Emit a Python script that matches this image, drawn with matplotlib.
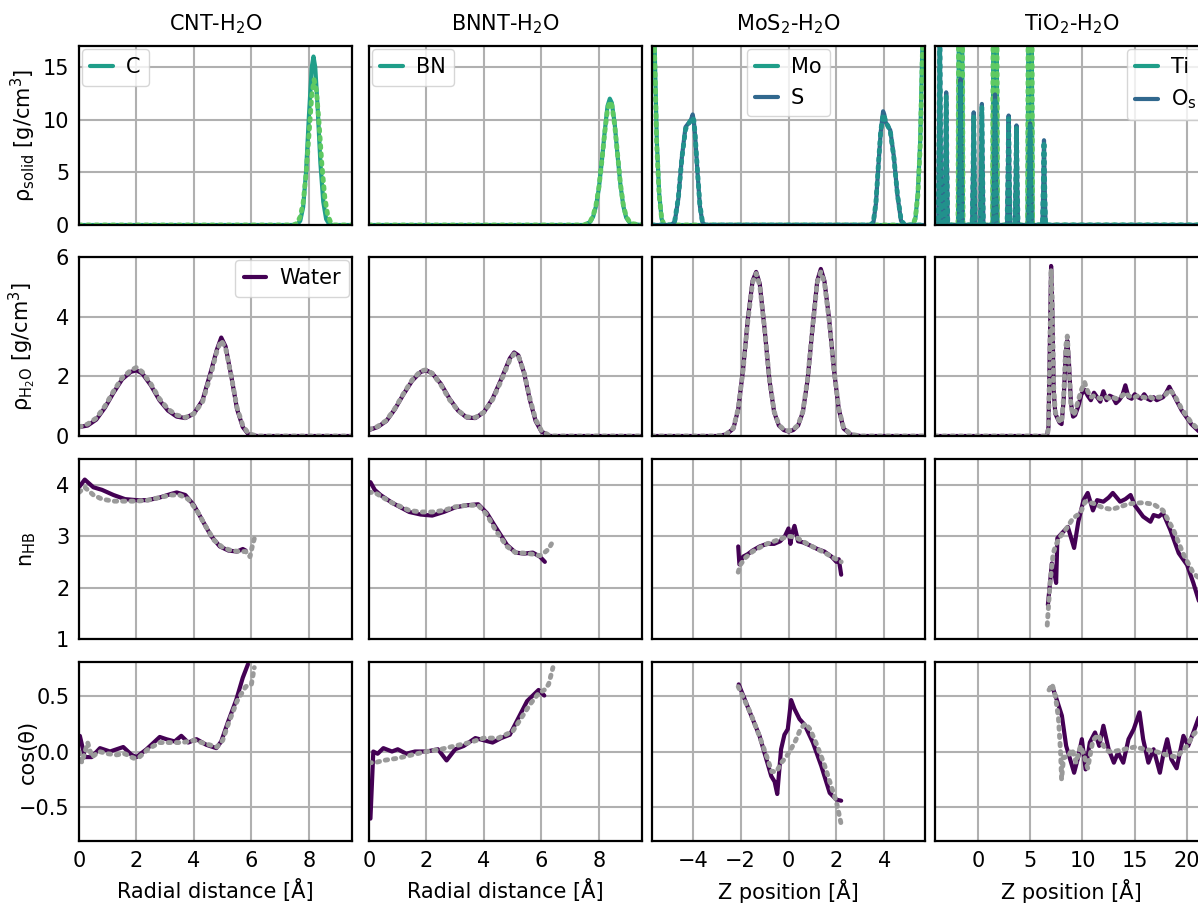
import numpy as np
import matplotlib.pyplot as plt

plt.rcParams['font.family'] = 'DejaVu Sans'
plt.rcParams['font.size'] = 15
plt.rcParams['mathtext.default'] = 'regular'

TEAL = '#1f9e89'
BLUE = '#31688e'
GREEN = '#5ec962'
TEAL2 = '#21918c'
PURPLE = '#440154'
GRAY = '#9a9a9a'

titles = ['CNT-H$_2$O', 'BNNT-H$_2$O', 'MoS$_2$-H$_2$O', 'TiO$_2$-H$_2$O']
xlabels = ['Radial distance [Å]', 'Radial distance [Å]', 'Z position [Å]', 'Z position [Å]']
ylabels = ['ρ$_{solid}$ [g/cm$^3$]', 'ρ$_{H_2O}$ [g/cm$^3$]', 'n$_{HB}$', 'cos(θ)']

# ---------------- row 1: solid density ----------------
cnt_c_x = [0, 7.4, 7.6, 7.7, 7.8, 7.9, 8.0, 8.1, 8.16, 8.22, 8.3, 8.4, 8.5, 8.6, 8.7, 8.8, 9.5]
cnt_c_y = [0, 0, 0.07, 0.4, 1.7, 5.0, 10.3, 15.0, 16.0, 15.0, 11.4, 5.9, 2.2, 0.56, 0.1, 0, 0]
cnt_c2_x = [0, 7.5, 7.6, 7.7, 7.8, 7.9, 8.0, 8.1, 8.18, 8.26, 8.35, 8.45, 8.55, 8.65, 8.75, 8.85, 9.5]
cnt_c2_y = [0, 0, 0.25, 0.8, 2.1, 4.8, 8.5, 12.3, 13.8, 12.8, 9.8, 5.8, 2.7, 1.0, 0.3, 0, 0]

bn_x = [0, 7.5, 7.7, 7.8, 7.9, 8.0, 8.1, 8.2, 8.3, 8.38, 8.45, 8.55, 8.65, 8.75, 8.85, 8.95, 9.1, 9.5]
bn_y = [0, 0, 0.3, 0.8, 1.8, 3.5, 6.0, 8.8, 11.3, 12.0, 11.6, 9.6, 6.6, 3.8, 1.8, 0.7, 0.1, 0]
bn2_y = [0, 0, 0.35, 0.9, 1.9, 3.6, 6.0, 8.7, 11.0, 11.7, 11.4, 9.5, 6.7, 3.9, 1.9, 0.8, 0.15, 0]

mo_x = [-5.9, -5.75, -5.6, -5.5, -5.4, -5.3, -5.2, 5.2, 5.3, 5.4, 5.5, 5.6, 5.75, 5.9]
mo_y = [60, 45, 18, 8, 3, 0.6, 0, 0, 0.6, 3, 8, 18, 45, 60]
mo2_y = [60, 42, 17, 7.5, 2.8, 0.7, 0, 0, 0.7, 2.8, 7.5, 17, 42, 60]

s_x = [-5.7, -4.9, -4.75, -4.6, -4.45, -4.3, -4.2, -4.1, -4.0, -3.95, -3.9, -3.8, -3.7, -3.6, -3.5,
       3.45, 3.55, 3.65, 3.75, 3.85, 3.95, 4.0, 4.05, 4.15, 4.25, 4.4, 4.55, 4.7, 4.85, 5.7]
s_y = [0, 0, 0.3, 2.5, 6.5, 9.3, 9.6, 9.8, 10.5, 9.8, 8.5, 5.0, 1.8, 0.3, 0,
       0, 0.3, 2.0, 5.5, 8.8, 10.8, 10.5, 9.8, 9.4, 9.0, 6.5, 2.8, 0.4, 0, 0]
s2_y = [0, 0, 0.4, 2.6, 6.4, 9.1, 9.5, 9.9, 10.2, 9.9, 8.6, 5.1, 1.9, 0.4, 0,
        0, 0.4, 2.1, 5.6, 8.9, 10.5, 10.3, 9.9, 9.4, 8.9, 6.4, 2.9, 0.5, 0, 0]

ti_x = [-4.1, -1.9, -1.78, -1.66, -1.54, -1.42, 1.40, 1.52, 1.64, 1.76, 1.88,
        4.75, 4.87, 4.99, 5.11, 5.23, 22]
ti_y = [0, 0, 30, 90, 30, 0, 0, 30, 90, 30, 0, 0, 30, 90, 30, 0, 0]
ti2_y = [0, 0, 40, 100, 40, 0, 0, 40, 100, 40, 0, 0, 40, 100, 40, 0, 0]

os_x = [-4.1, -3.79, -3.71, -3.64, -3.57, -3.49, -3.18, -3.10, -3.03, -2.96, -2.88,
        -1.81, -1.73, -1.66, -1.59, -1.51, -0.55, -0.47, -0.40, -0.33, -0.25,
        0.23, 0.31, 0.38, 0.45, 0.53, 1.49, 1.57, 1.64, 1.71, 1.79,
        2.79, 2.87, 2.94, 3.01, 3.09, 3.54, 3.62, 3.69, 3.76, 3.84,
        4.84, 4.92, 4.99, 5.06, 5.14, 6.17, 6.25, 6.32, 6.39, 6.47, 22]
os_y = [0, 0, 9, 20, 9, 0, 0, 5.7, 12.6, 5.7, 0,
        0, 6.2, 13.85, 6.2, 0, 0, 4.8, 10.7, 4.8, 0,
        0, 5.2, 11.5, 5.2, 0, 0, 5.6, 12.4, 5.6, 0,
        0, 4.7, 10.4, 4.7, 0, 0, 4.3, 9.46, 4.3, 0,
        0, 4.3, 9.65, 4.3, 0, 0, 3.6, 8.05, 3.6, 0, 0]
os2_y = [0, 0, 9, 20, 9, 0, 0, 5.5, 12.2, 5.5, 0,
         0, 6.0, 13.4, 6.0, 0, 0, 4.7, 10.4, 4.7, 0,
         0, 5.1, 11.2, 5.1, 0, 0, 5.4, 12.0, 5.4, 0,
         0, 4.6, 10.1, 4.6, 0, 0, 4.2, 9.2, 4.2, 0,
         0, 4.2, 9.4, 4.2, 0, 0, 3.5, 7.9, 3.5, 0, 0]

# ---------------- row 2: water density ----------------
cnt_w_x = [0, 0.3, 0.6, 0.9, 1.2, 1.5, 1.8, 2.0, 2.2, 2.5, 2.8, 3.1, 3.4, 3.7, 4.0, 4.3,
           4.6, 4.8, 4.95, 5.1, 5.3, 5.5, 5.7, 5.9, 6.2, 9.5]
cnt_w_y = [0.3, 0.35, 0.55, 0.95, 1.45, 1.9, 2.15, 2.2, 2.1, 1.7, 1.2, 0.85, 0.65, 0.6, 0.75, 1.2,
           2.2, 2.9, 3.3, 3.0, 2.0, 0.9, 0.3, 0.05, 0.0, 0.0]
cnt_w2_y = [0.3, 0.4, 0.6, 1.0, 1.5, 1.95, 2.2, 2.3, 2.15, 1.75, 1.25, 0.9, 0.7, 0.62, 0.75, 1.15,
            2.1, 2.85, 3.2, 2.95, 2.0, 0.95, 0.35, 0.08, 0.0, 0.0]

bn_w_x = [0, 0.3, 0.6, 0.9, 1.2, 1.5, 1.8, 2.0, 2.2, 2.5, 2.8, 3.1, 3.4, 3.7, 4.0, 4.3,
          4.6, 4.9, 5.05, 5.2, 5.4, 5.6, 5.8, 6.0, 6.3, 9.5]
bn_w_y = [0.2, 0.3, 0.5, 0.9, 1.4, 1.85, 2.15, 2.2, 2.1, 1.75, 1.25, 0.85, 0.62, 0.6, 0.8, 1.25,
          1.9, 2.6, 2.8, 2.7, 2.1, 1.2, 0.5, 0.15, 0.0, 0.0]
bn_w2_y = [0.22, 0.32, 0.52, 0.92, 1.42, 1.88, 2.18, 2.22, 2.1, 1.72, 1.22, 0.85, 0.64, 0.62, 0.8, 1.22,
           1.85, 2.55, 2.75, 2.68, 2.12, 1.25, 0.55, 0.18, 0.0, 0.0]

mos_w_x = [-5.7, -3.0, -2.6, -2.3, -2.1, -1.9, -1.7, -1.5, -1.35, -1.2, -1.0, -0.8, -0.6, -0.4,
           -0.2, 0.0, 0.2, 0.4, 0.6, 0.8, 1.0, 1.2, 1.35, 1.5, 1.7, 1.9, 2.1, 2.3, 2.6, 3.0, 5.7]
mos_w_y = [0, 0, 0.05, 0.25, 0.9, 2.2, 3.9, 5.2, 5.5, 5.1, 3.6, 1.9, 0.8, 0.35,
           0.2, 0.15, 0.2, 0.35, 0.8, 1.9, 3.6, 5.2, 5.6, 5.2, 3.9, 2.2, 0.9, 0.25, 0.05, 0, 0]
mos_w2_y = [0, 0, 0.06, 0.27, 0.92, 2.2, 3.85, 5.15, 5.45, 5.05, 3.6, 1.92, 0.82, 0.37,
            0.22, 0.17, 0.22, 0.37, 0.82, 1.92, 3.6, 5.15, 5.5, 5.15, 3.85, 2.2, 0.92, 0.27, 0.06, 0, 0]

tio_w_x = [-4.1, 6.6, 6.75, 6.9, 7.0, 7.1, 7.25, 7.4, 7.6, 7.8, 8.0, 8.2, 8.4, 8.55, 8.7, 8.9,
           9.1, 9.3, 9.6, 9.9, 10.2, 10.5, 10.8, 11.1, 11.4, 11.7, 12.0, 12.3, 12.6, 12.9, 13.2,
           13.5, 13.8, 14.1, 14.4, 14.7, 15.0, 15.3, 15.6, 15.9, 16.2, 16.5, 16.8, 17.1, 17.4,
           17.7, 18.0, 18.3, 18.6, 18.9, 19.2, 19.5, 19.8, 20.1, 20.4, 20.7, 21.0, 21.3, 21.6, 22.0]
tio_w_y = [0, 0, 0.3, 3.5, 5.7, 4.5, 1.5, 0.75, 0.6, 0.45, 0.4, 1.2, 2.8, 3.2, 2.5, 1.1,
           0.65, 0.7, 1.0, 1.4, 1.55, 1.35, 1.2, 1.45, 1.3, 1.15, 1.5, 1.2, 1.35, 1.3, 1.1,
           1.2, 1.35, 1.7, 1.3, 1.25, 1.4, 1.3, 1.25, 1.4, 1.25, 1.2, 1.3, 1.2, 1.25,
           1.3, 1.45, 1.65, 1.45, 1.25, 1.05, 0.85, 0.7, 0.55, 0.4, 0.3, 0.2, 0.1, 0.05, 0]
tio_w2_y = [0, 0, 0.25, 3.3, 5.6, 4.6, 1.6, 0.8, 0.62, 0.5, 0.45, 1.3, 3.0, 3.35, 2.4, 1.0,
            0.7, 0.8, 1.2, 1.55, 1.8, 1.5, 1.3, 1.35, 1.3, 1.25, 1.3, 1.3, 1.25, 1.3, 1.25,
            1.3, 1.35, 1.45, 1.35, 1.3, 1.3, 1.35, 1.3, 1.3, 1.25, 1.3, 1.25, 1.3, 1.3,
            1.35, 1.4, 1.55, 1.45, 1.3, 1.1, 0.9, 0.75, 0.6, 0.45, 0.35, 0.25, 0.15, 0.08, 0]

# ---------------- row 3: hydrogen bonds ----------------
cnt_hb_x = [0.0, 0.2, 0.5, 0.8, 1.2, 1.6, 2.0, 2.4, 2.8, 3.2, 3.4, 3.7, 4.0, 4.3, 4.6, 4.9,
            5.2, 5.5, 5.7, 5.8]
cnt_hb_y = [3.95, 4.1, 3.95, 3.9, 3.8, 3.72, 3.7, 3.7, 3.75, 3.82, 3.85, 3.8, 3.6, 3.3, 3.0, 2.8,
            2.72, 2.7, 2.75, 2.72]
cnt_hb2_x = [0.0, 0.2, 0.5, 0.8, 1.2, 1.6, 2.0, 2.4, 2.8, 3.2, 3.5, 3.8, 4.1, 4.4, 4.7, 5.0,
             5.3, 5.6, 5.8, 5.95, 6.05, 6.1]
cnt_hb2_y = [3.85, 3.95, 3.8, 3.72, 3.68, 3.68, 3.68, 3.7, 3.75, 3.8, 3.8, 3.72, 3.5, 3.2, 2.92, 2.78,
             2.72, 2.7, 2.7, 2.6, 2.85, 2.95]

bn_hb_x = [0.05, 0.2, 0.4, 0.8, 1.4, 1.8, 2.2, 2.6, 3.0, 3.4, 3.8, 4.1, 4.4, 4.8, 5.1, 5.4,
           5.7, 5.95, 6.12]
bn_hb_y = [4.05, 3.9, 3.8, 3.65, 3.47, 3.42, 3.4, 3.47, 3.56, 3.6, 3.62, 3.45, 3.18, 2.83, 2.68, 2.66,
           2.68, 2.6, 2.5]
bn_hb2_x = [0.0, 0.2, 0.4, 0.8, 1.4, 1.8, 2.2, 2.6, 3.0, 3.4, 3.8, 4.1, 4.4, 4.8, 5.1, 5.4,
            5.7, 5.95, 6.15, 6.25, 6.35]
bn_hb2_y = [3.85, 3.85, 3.78, 3.65, 3.5, 3.47, 3.47, 3.5, 3.57, 3.6, 3.6, 3.42, 3.12, 2.8, 2.68, 2.67,
            2.65, 2.62, 2.7, 2.75, 2.85]

mos_hb_x = [-2.1, -2.05, -1.9, -1.7, -1.5, -1.2, -0.9, -0.6, -0.35, -0.15, 0.0, 0.08, 0.15, 0.25,
            0.4, 0.6, 0.9, 1.2, 1.5, 1.8, 2.0, 2.1, 2.2]
mos_hb_y = [2.8, 2.45, 2.6, 2.65, 2.72, 2.8, 2.85, 2.85, 2.9, 3.0, 3.15, 2.85, 3.05, 3.2,
            2.9, 2.88, 2.82, 2.75, 2.7, 2.6, 2.5, 2.55, 2.25]
mos_hb2_x = [-2.1, -2.0, -1.8, -1.5, -1.2, -0.9, -0.6, -0.3, 0.0, 0.3, 0.6, 0.9, 1.2, 1.5,
             1.8, 2.0, 2.2]
mos_hb2_y = [2.3, 2.45, 2.58, 2.7, 2.78, 2.85, 2.9, 2.95, 3.0, 2.98, 2.9, 2.82, 2.75, 2.68,
             2.6, 2.55, 2.5]

tio_hb_x = [6.69, 6.9, 7.07, 7.3, 7.48, 7.6, 8.0, 8.6, 9.2, 9.6, 10.1, 10.5, 11.0, 11.4, 12.0,
            12.5, 12.9, 13.6, 14.1, 14.6, 15.0, 15.8, 16.5, 16.8, 17.3, 17.7, 18.4, 19.2, 20.0,
            20.6, 21.1, 21.6]
tio_hb_y = [1.66, 2.1, 2.47, 2.3, 2.09, 2.96, 3.05, 3.18, 2.77, 3.28, 3.7, 3.84, 3.5, 3.7, 3.67,
            3.75, 3.84, 3.67, 3.72, 3.8, 3.6, 3.38, 3.28, 3.41, 3.38, 3.45, 3.12, 2.67, 2.44,
            2.09, 1.76, 1.5]
tio_hb2_x = [6.63, 6.9, 7.2, 7.5, 7.87, 8.5, 9.1, 9.8, 10.25, 11.0, 12.0, 12.8, 13.6, 14.3, 14.9,
             15.8, 16.8, 17.7, 18.7, 19.6, 20.6, 21.1, 21.6]
tio_hb2_y = [1.27, 2.09, 2.67, 2.85, 2.99, 3.16, 3.35, 3.45, 3.67, 3.64, 3.55, 3.52, 3.57, 3.62, 3.64,
             3.65, 3.62, 3.5, 3.12, 2.67, 2.28, 2.19, 2.0]

# ---------------- row 4: orientation ----------------
cnt_cos_x = [0.03, 0.2, 0.44, 0.73, 1.08, 1.54, 1.83, 2.0, 2.35, 2.81, 3.04, 3.33, 3.56, 3.8,
             4.09, 4.43, 4.78, 4.95, 5.18, 5.47, 5.7, 5.88]
cnt_cos_y = [0.14, -0.05, -0.05, 0.03, 0.0, 0.04, -0.03, -0.05, 0.02, 0.13, 0.11, 0.09, 0.14, 0.08,
             0.11, 0.06, 0.03, 0.09, 0.26, 0.46, 0.66, 0.78]
cnt_cos2_x = [0.0, 0.1, 0.3, 0.45, 0.7, 1.0, 1.3, 1.6, 1.9, 2.1, 2.4, 2.8, 3.2, 3.6, 4.0, 4.4,
              4.8, 5.0, 5.2, 5.5, 5.8, 6.0, 6.1]
cnt_cos2_y = [0.0, -0.1, 0.08, -0.05, 0.0, -0.02, -0.03, -0.02, -0.06, -0.05, 0.02, 0.08, 0.08, 0.08,
              0.1, 0.07, 0.04, 0.1, 0.25, 0.45, 0.58, 0.6, 0.75]

bn_cos_x = [0.05, 0.15, 0.3, 0.5, 0.8, 1.0, 1.3, 1.6, 2.0, 2.4, 2.7, 3.0, 3.3, 3.7, 4.0, 4.3,
            4.6, 4.9, 5.2, 5.5, 5.9, 6.1]
bn_cos_y = [-0.6, 0.0, -0.02, 0.03, 0.0, 0.02, -0.02, 0.0, 0.0, 0.02, -0.08, 0.02, 0.05, 0.12,
            0.1, 0.08, 0.12, 0.15, 0.3, 0.45, 0.55, 0.5]
bn_cos2_x = [0.0, 0.2, 0.5, 1.0, 1.5, 2.0, 2.5, 3.0, 3.5, 4.0, 4.5, 5.0, 5.3, 5.6, 5.9, 6.1,
             6.25, 6.4]
bn_cos2_y = [-0.1, -0.1, -0.08, -0.06, -0.03, 0.0, 0.02, 0.05, 0.08, 0.12, 0.12, 0.18, 0.3, 0.42,
             0.52, 0.55, 0.6, 0.75]

mos_cos_x = [-2.08, -1.63, -1.21, -0.72, -0.58, -0.47, -0.31, -0.17, -0.03, 0.11, 0.25, 0.46,
             0.67, 1.02, 1.37, 1.72, 2.0, 2.2]
mos_cos_y = [0.6, 0.36, 0.14, -0.22, -0.27, -0.38, 0.02, 0.15, 0.2, 0.46, 0.38, 0.29,
             0.24, 0.08, -0.13, -0.37, -0.43, -0.44]
mos_cos2_x = [-2.1, -1.6, -1.2, -0.9, -0.7, -0.5, -0.3, -0.1, 0.1, 0.3, 0.5, 0.7, 0.9, 1.2,
              1.5, 1.8, 2.0, 2.1, 2.2]
mos_cos2_y = [0.58, 0.35, 0.13, -0.05, -0.18, -0.18, -0.1, -0.05, 0.02, 0.1, 0.2, 0.25, 0.2, 0.05,
              -0.12, -0.32, -0.45, -0.55, -0.65]

tio_cos_x = [6.9, 7.23, 7.55, 8.03, 8.44, 8.82, 9.2, 9.62, 9.94, 10.3, 10.7, 11.2, 11.6, 12.0,
             12.5, 13.0, 13.4, 13.9, 14.4, 14.9, 15.45, 15.8, 16.3, 16.8, 17.4, 17.7, 18.1, 18.5,
             19.0, 19.65, 20.1, 20.6, 21.1, 21.6]
tio_cos_y = [0.57, 0.55, 0.46, 0.32, 0.05, -0.07, -0.19, -0.04, 0.11, -0.16, 0.08, 0.17, 0.05, 0.23,
             0.02, -0.1, -0.01, -0.1, 0.11, 0.2, 0.35, 0.11, -0.1, 0.02, -0.19, -0.04, 0.11, -0.07,
             -0.15, 0.14, 0.05, 0.17, 0.3, 0.35]
tio_cos2_x = [6.8, 7.1, 7.4, 7.7, 7.9, 8.0, 8.2, 8.6, 9.0, 9.4, 9.8, 10.2, 10.5, 11.0, 11.5, 12.0,
              12.5, 13.0, 14.0, 15.0, 16.0, 17.0, 18.0, 19.0, 20.0, 20.6, 21.1, 21.6]
tio_cos2_y = [0.55, 0.6, 0.5, 0.3, 0.0, -0.25, -0.05, -0.05, 0.02, -0.1, 0.05, -0.05, -0.15, 0.1,
              0.15, 0.05, 0.0, 0.0, 0.02, 0.04, 0.02, 0.0, -0.03, -0.05, 0.05, 0.15, 0.2, 0.25]

# panel limits / ticks
xlims = [(0, 9.5), (0, 9.5), (-5.7, 5.7), (-4.1, 22.0)]
xticks = [[0, 2, 4, 6, 8], [0, 2, 4, 6, 8], [-4, -2, 0, 2, 4], [0, 5, 10, 15, 20]]
ylims = [(0, 17), (0, 6), (1, 4.5), (-0.8, 0.8)]
yticks = [[0, 5, 10, 15], [0, 2, 4, 6], [1, 2, 3, 4], [-0.5, 0.0, 0.5]]

# layout in pixels (figure 1198 x 907, last column runs off the right edge)
W, H = 1198, 907
col_left = [79, 369, 652, 935]
col_w = 273
row_top = [46, 257, 459, 662]
row_bot = [225, 436, 639, 841]

fig = plt.figure(figsize=(11.98, 9.07), dpi=100)
axes = [[fig.add_axes([col_left[c] / W, 1 - row_bot[r] / H, col_w / W, (row_bot[r] - row_top[r]) / H])
         for c in range(4)] for r in range(4)]

SOLID = dict(lw=3.0, solid_capstyle='round')
DOT = dict(lw=3.5, ls=(0, (0.5, 1.2)), dash_capstyle='round')


def pair(ax, x, y, x2, y2, c1, c2, label=None):
    ax.plot(x, y, color=c1, label=label, **SOLID)
    ax.plot(x2, y2, color=c2, **DOT)


# row 1
pair(axes[0][0], cnt_c_x, cnt_c_y, cnt_c2_x, cnt_c2_y, TEAL, GREEN, 'C')
pair(axes[0][1], bn_x, bn_y, bn_x, bn2_y, TEAL, GREEN, 'BN')
pair(axes[0][2], mo_x, mo_y, mo_x, mo2_y, TEAL, GREEN, 'Mo')
pair(axes[0][2], s_x, s_y, s_x, s2_y, BLUE, TEAL2, 'S')
pair(axes[0][3], ti_x, ti_y, ti_x, ti2_y, TEAL, GREEN, 'Ti')
pair(axes[0][3], os_x, os_y, os_x, os2_y, BLUE, TEAL2, 'O$_s$')

# row 2
pair(axes[1][0], cnt_w_x, cnt_w_y, cnt_w_x, cnt_w2_y, PURPLE, GRAY, 'Water')
pair(axes[1][1], bn_w_x, bn_w_y, bn_w_x, bn_w2_y, PURPLE, GRAY)
pair(axes[1][2], mos_w_x, mos_w_y, mos_w_x, mos_w2_y, PURPLE, GRAY)
pair(axes[1][3], tio_w_x, tio_w_y, tio_w_x, tio_w2_y, PURPLE, GRAY)

# row 3
pair(axes[2][0], cnt_hb_x, cnt_hb_y, cnt_hb2_x, cnt_hb2_y, PURPLE, GRAY)
pair(axes[2][1], bn_hb_x, bn_hb_y, bn_hb2_x, bn_hb2_y, PURPLE, GRAY)
pair(axes[2][2], mos_hb_x, mos_hb_y, mos_hb2_x, mos_hb2_y, PURPLE, GRAY)
pair(axes[2][3], tio_hb_x, tio_hb_y, tio_hb2_x, tio_hb2_y, PURPLE, GRAY)

# row 4
pair(axes[3][0], cnt_cos_x, cnt_cos_y, cnt_cos2_x, cnt_cos2_y, PURPLE, GRAY)
pair(axes[3][1], bn_cos_x, bn_cos_y, bn_cos2_x, bn_cos2_y, PURPLE, GRAY)
pair(axes[3][2], mos_cos_x, mos_cos_y, mos_cos2_x, mos_cos2_y, PURPLE, GRAY)
pair(axes[3][3], tio_cos_x, tio_cos_y, tio_cos2_x, tio_cos2_y, PURPLE, GRAY)

for r in range(4):
    for c in range(4):
        ax = axes[r][c]
        ax.set_xlim(*xlims[c])
        ax.set_ylim(*ylims[r])
        ax.set_xticks(xticks[c])
        ax.set_yticks(yticks[r])
        ax.grid(True, color='#b0b0b0', lw=1.5)
        ax.set_axisbelow(True)
        for sp in ax.spines.values():
            sp.set_linewidth(1.6)
            sp.set_color('black')
        ax.tick_params(length=0, pad=7, labelsize=15)
        if c > 0:
            ax.tick_params(labelleft=False)
        else:
            ax.set_ylabel(ylabels[r], fontsize=15)
            ax.yaxis.set_label_coords(-0.15, 0.5)
        if r < 3:
            ax.tick_params(labelbottom=False)
        else:
            ax.set_xlabel(xlabels[c], fontsize=15, labelpad=6)
        if r == 0:
            ax.set_title(titles[c], fontsize=15, pad=11)

leg_kw = dict(fontsize=15, handlelength=1.1, handletextpad=0.6, borderaxespad=0.15,
              framealpha=0.8, edgecolor='#cccccc', fancybox=True)
axes[0][0].legend(loc='upper left', **leg_kw)
axes[0][1].legend(loc='upper left', **leg_kw)
axes[0][2].legend(loc='upper center', **leg_kw)
axes[0][3].legend(loc='upper right', **leg_kw)
axes[1][0].legend(loc='upper right', **leg_kw)

fig.savefig('out.png', dpi=100)
